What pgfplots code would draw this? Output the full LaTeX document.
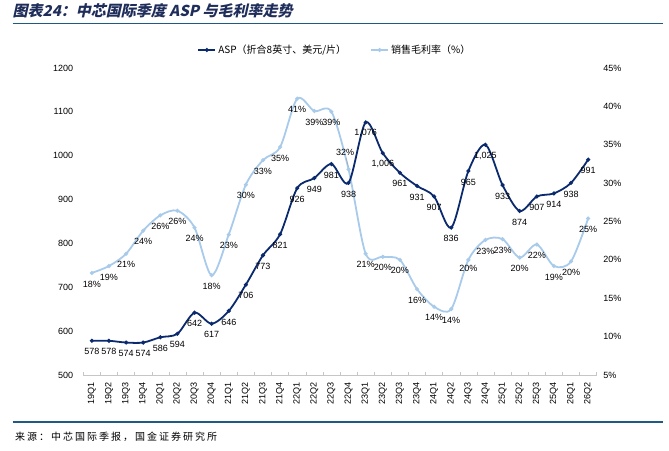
\documentclass[border=0pt]{standalone}
\usepackage{fontspec}
\setmainfont{Liberation Sans}
\newfontfamily\cjk{Noto Sans CJK SC}
\newfontfamily\titlefont[FakeSlant=0.22]{Noto Sans CJK SC}
\newfontfamily\srcfont[LetterSpace=20]{Noto Sans CJK SC}
\usepackage{pgfplots}
\usepackage{pgfplotstable}
\pgfplotsset{compat=1.18}
\definecolor{aspc}{HTML}{0B2A6E}
\definecolor{mc}{HTML}{A9CBEB}
\definecolor{rulec}{HTML}{1F5A85}
\definecolor{titlec}{HTML}{1F2D5A}

\pgfplotstableread{
x asp m mlab mdx mdy
0 578 18.3 18 0 -11
1 578 19.2 19 0 -11
2 574 20.8 21 0 -11
3 574 23.8 24 0 -11
4 586 25.8 26 0 -11
5 594 26.4 26 0 -11
6 642 24.2 24 0 -11
7 617 18.0 18 0 -11
8 646 23.3 23 0 -11
9 706 29.8 30 0 -11
10 773 33.0 33 0 -11
11 821 34.7 35 0 -11
12 926 41.0 41 0 -11
13 949 39.4 39 0 -11
14 981 39.3 39 0 -11
15 938 31.8 32 -3.5 16.5
16 1076 20.8 21 0 -11
17 1006 20.4 20 0 -11
18 961 20.0 20 0 -11
19 931 16.2 16 0 -11
20 907 13.9 14 0 -11
21 836 13.6 14 0 -11
22 965 20.0 20 0 -9
23 1025 22.6 23 0 -11
24 933 22.7 23 0 -11
25 874 20.3 20 0 -11
26 907 22.0 22 0 -11
27 914 19.2 19 0 -11
28 938 19.8 20 0 -11
29 991 25.4 25 0 -11
}\data

\begin{document}
\begin{tikzpicture}
\path[use as bounding box] (0pt,0pt) rectangle (669pt,450pt);
\node[anchor=west, text=titlec, font=\titlefont\bfseries\fontsize{15}{15}\selectfont, inner sep=0] at (12.5pt,439pt) {图表24：中芯国际季度 ASP 与毛利率走势};
\draw[rulec, line width=1.2pt] (12.5pt,426.7pt) -- (663pt,426.7pt);
\draw[rulec, line width=1.2pt] (12.5pt,28pt) -- (663pt,28pt);
\node[anchor=west, font=\srcfont\fontsize{10}{10}\selectfont, inner sep=0] at (15pt,13.3pt) {来源：中芯国际季报，国金证券研究所};

% margin axis (right)
\begin{axis}[at={(83.3pt,75pt)}, anchor=south west, scale only axis,
  width=513.4pt, height=307pt,
  xmin=-0.5, xmax=29.5, ymin=5, ymax=45,
  ytick={5,10,...,45},
  yticklabel={\pgfmathprintnumber{\tick}\%},
  axis y line*=right, axis x line=none,
  y axis line style={draw=none}, ytick style={draw=none},
  yticklabel style={inner sep=0pt, anchor=west, xshift=6.5pt, font=\fontsize{9}{9}\selectfont},
  /pgf/number format/assume math mode=true,
  clip=false]
\addplot[mc, line width=1.8pt, smooth, mark=*, mark size=1pt, mark options={solid, fill=mc, draw=mc},
  point meta=explicit symbolic,
  visualization depends on={\thisrow{mdx} \as \mdx},
  visualization depends on={\thisrow{mdy} \as \mdy},
  nodes near coords={\pgfplotspointmeta\%},
  every node near coord/.append style={anchor=center, xshift=\mdx pt, yshift=\mdy pt, font=\fontsize{9}{9}\selectfont, text=black, inner sep=0pt}]
  table[x=x, y=m, meta=mlab]{\data};
\draw[gray!70, line width=0.5pt] (axis cs:14.85,33.3) -- (axis cs:15,32.0);
\end{axis}

% ASP axis (left)
\begin{axis}[at={(83.3pt,75pt)}, anchor=south west, scale only axis,
  width=513.4pt, height=307pt,
  xmin=-0.5, xmax=29.5, ymin=500, ymax=1200,
  ytick={500,600,...,1200},
  axis x line*=bottom, axis y line*=left,
  y axis line style={draw=none}, ytick style={draw=none},
  x axis line style={draw=gray!45, line width=0.6pt},
  xtick={0,...,29},
  xticklabels={19Q1,19Q2,19Q3,19Q4,20Q1,20Q2,20Q3,20Q4,21Q1,21Q2,21Q3,21Q4,22Q1,22Q2,22Q3,22Q4,23Q1,23Q2,23Q3,23Q4,24Q1,24Q2,24Q3,24Q4,25Q1,25Q2,25Q3,25Q4,26Q1,26Q2},
  major x tick style={draw=none},
  minor xtick={-0.5,0.5,...,29.5},
  minor x tick style={draw=gray!45, line width=0.5pt},
  minor tick length=3pt, tick align=inside,
  xticklabel style={inner sep=0pt, yshift=-7pt, rotate=90, anchor=east, font=\fontsize{9}{9}\selectfont},
  yticklabel style={inner sep=0pt, anchor=east, xshift=-10pt, font=\fontsize{9}{9}\selectfont},
  /pgf/number format/assume math mode=true,
  /pgf/number format/1000 sep={},
  clip=false,
  legend style={at={(0.490,1.0586)}, anchor=center, draw=none, fill=none,
    legend columns=2, font=\cjk\fontsize{10}{10}\selectfont,
    /tikz/every even column/.append style={column sep=22pt}},
  ]
\addplot[aspc, line width=1.8pt, smooth, mark=*, mark size=1pt, mark options={solid, fill=aspc},
  point meta=\thisrow{asp},
  nodes near coords={\pgfmathprintnumber[1000 sep={,}]{\pgfplotspointmeta}},
  every node near coord/.append style={anchor=center, yshift=-11pt, font=\fontsize{9}{9}\selectfont, text=black, inner sep=0pt}]
  table[x=x, y=asp]{\data};
\addlegendentry{ASP（折合8英寸、美元/片）}
\addlegendimage{mc, line width=1.8pt, mark=*, mark size=1pt, mark options={solid, fill=mc, draw=mc}}
\addlegendentry{销售毛利率（\%）}
\end{axis}
\end{tikzpicture}
\end{document}
